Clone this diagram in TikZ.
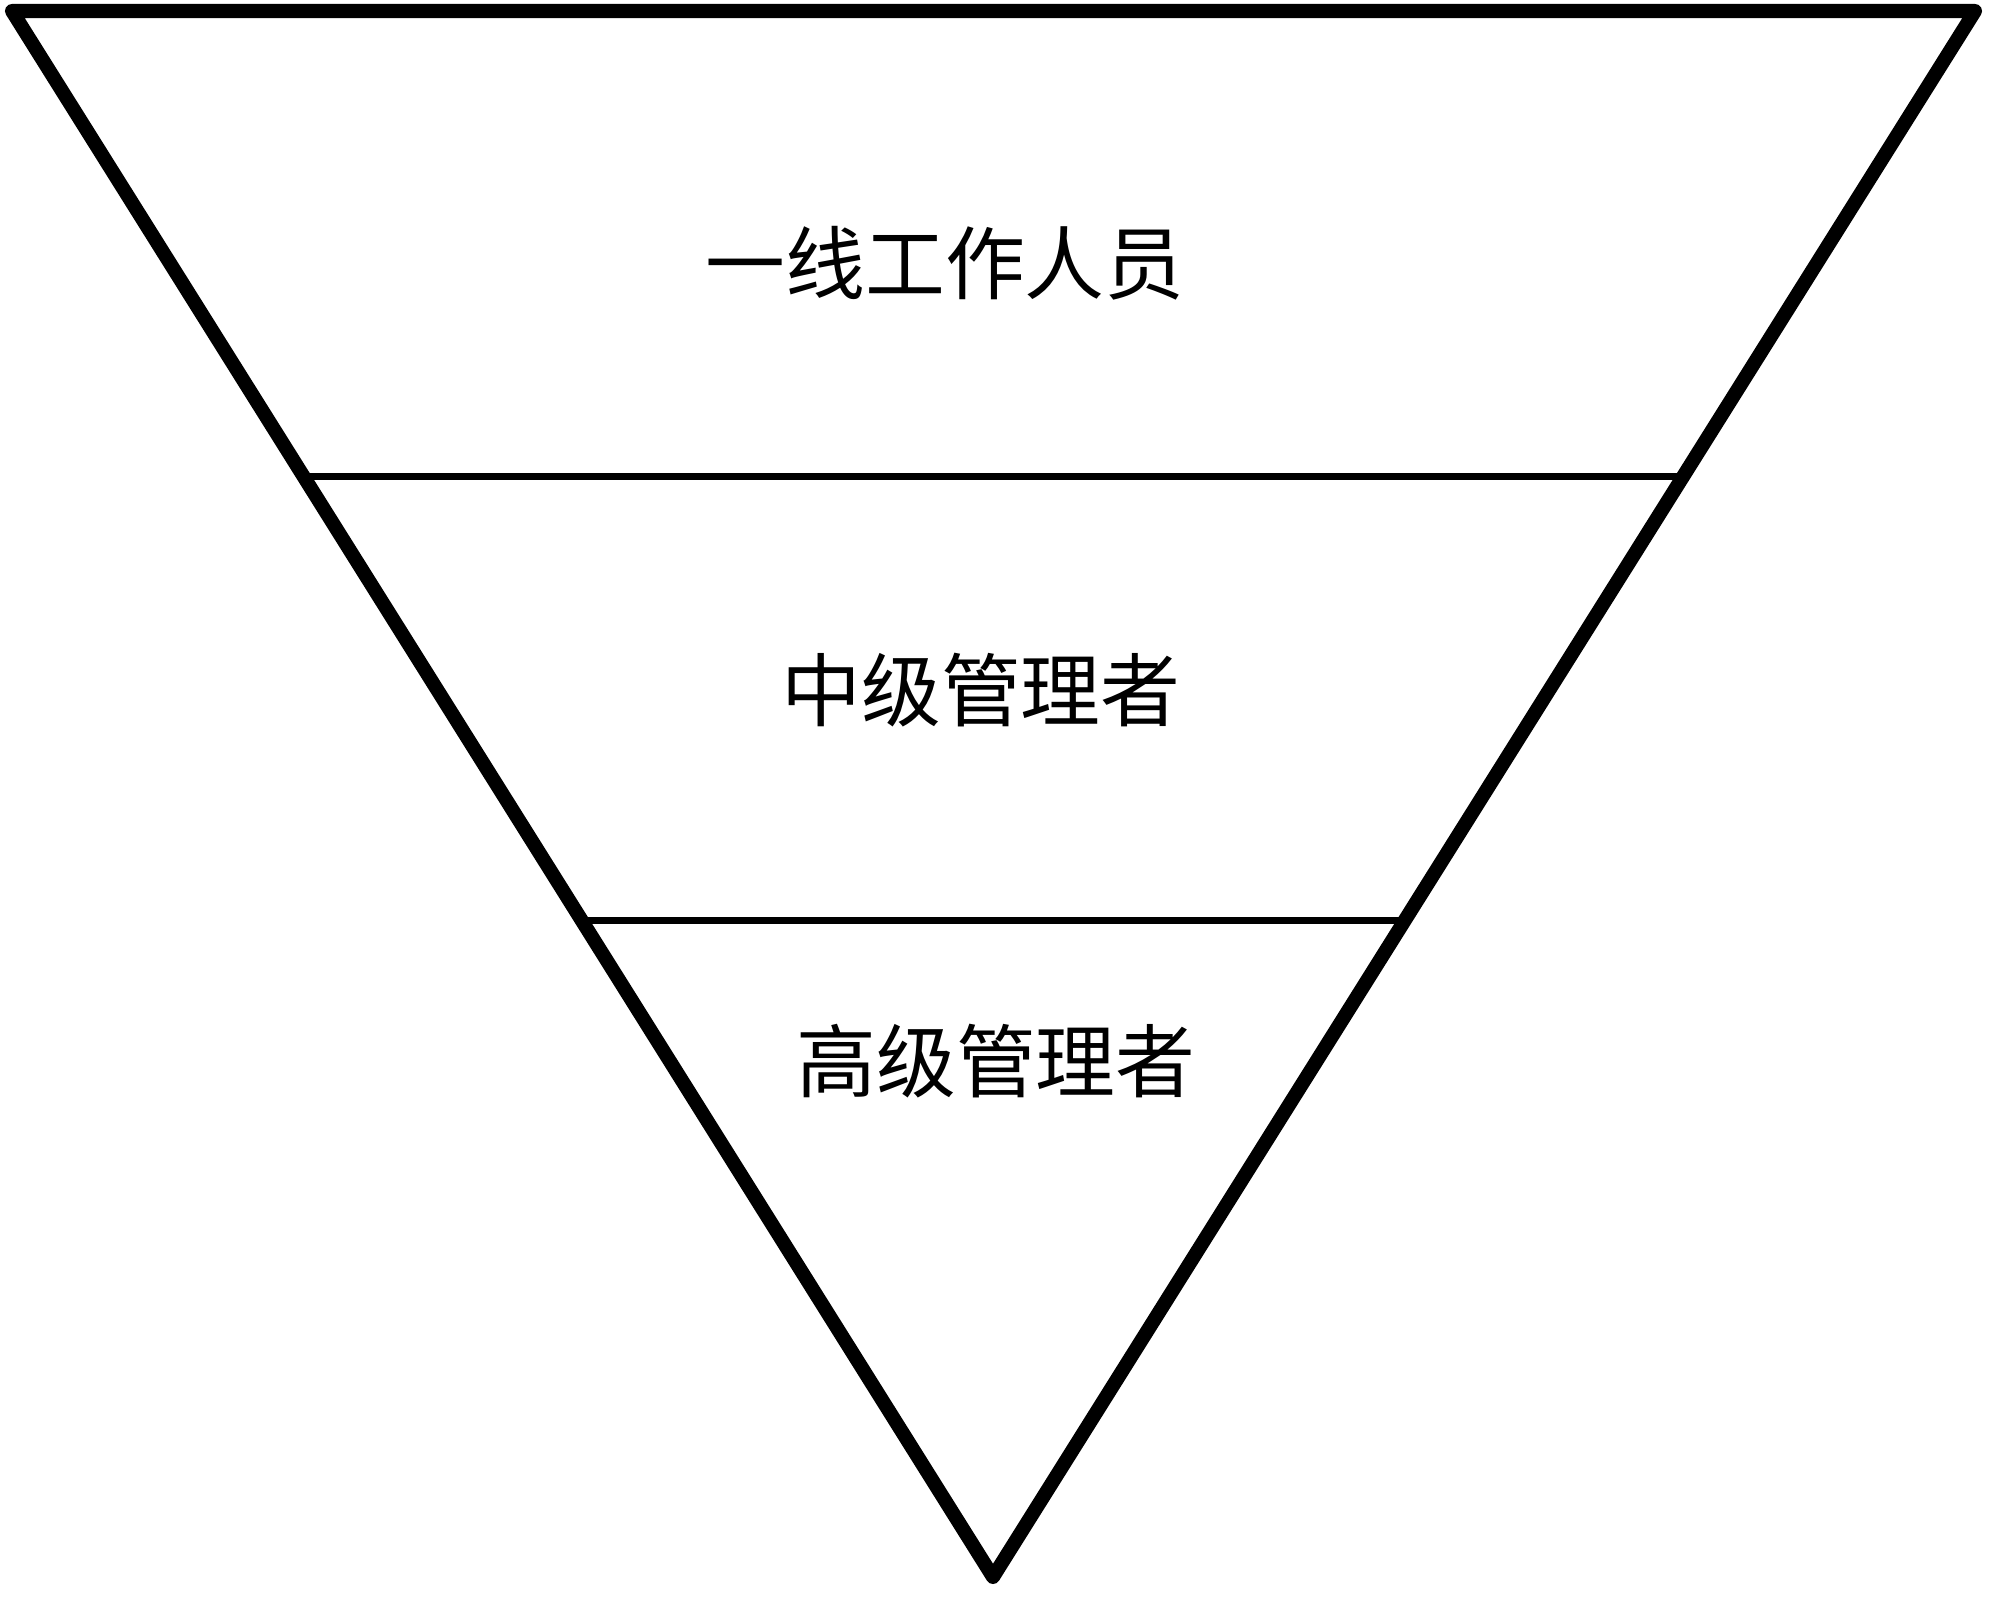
\documentclass[tikz,border=0pt]{standalone}
\usepackage{fontspec}
\newfontfamily\cjk{Noto Sans CJK SC}
\usepackage{tikz}
\usetikzlibrary{calc}

\begin{document}
\begin{tikzpicture}[
  x=0.01cm, y=-0.01cm,
  font=\cjk\fontsize{22.7}{26}\selectfont,
  edge/.style={line width=4pt, line join=round, line cap=round},
  level/.style={line width=2pt},
  lbl/.style={inner sep=0pt, anchor=center}
]
\useasboundingbox (0,0) rectangle (2000,1607);
\coordinate (tl) at (12,11);
\coordinate (tr) at (1975,11);
\coordinate (bot) at (993,1577);

% the three levels
\coordinate (l1) at ($(tl)!0.297!(bot)$);
\coordinate (r1) at ($(tr)!0.297!(bot)$);
\coordinate (l2) at ($(tl)!0.581!(bot)$);
\coordinate (r2) at ($(tr)!0.581!(bot)$);
\draw[level] (l1) -- (r1);
\draw[level] (l2) -- (r2);

\draw[edge] (tl) -- (tr) -- (bot) -- cycle;

\node[lbl] (staff) at (945,263) {一线工作人员};
\node[lbl] (middle) at (981,690) {中级管理者};
\node[lbl] (top) at (996,1061) {高级管理者};
\end{tikzpicture}
\end{document}
